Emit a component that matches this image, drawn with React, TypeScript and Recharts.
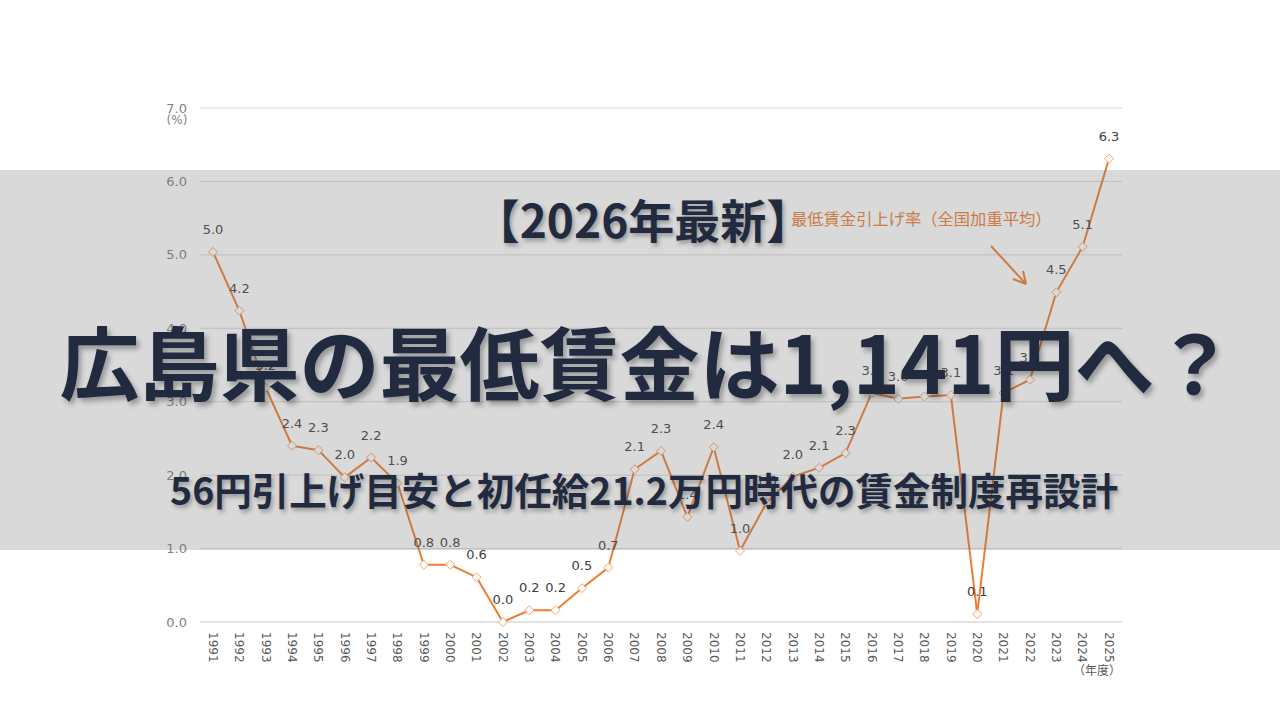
import { LineChart, Line, XAxis, YAxis, CartesianGrid, LabelList } from 'recharts'

// 最低賃金引上げ率（全国加重平均）, %
const years = [
  '1991', '1992', '1993', '1994', '1995', '1996', '1997', '1998', '1999', '2000',
  '2001', '2002', '2003', '2004', '2005', '2006', '2007', '2008', '2009', '2010',
  '2011', '2012', '2013', '2014', '2015', '2016', '2017', '2018', '2019', '2020',
  '2021', '2022', '2023', '2024', '2025',
]
const rates = [
  5.04, 4.24, 3.19, 2.4, 2.34, 1.97, 2.24, 1.89, 0.78, 0.78,
  0.61, 0.0, 0.16, 0.16, 0.46, 0.74, 2.08, 2.33, 1.43, 2.38,
  0.97, 1.62, 1.98, 2.1, 2.3, 3.12, 3.04, 3.07, 3.09, 0.11,
  3.12, 3.3, 4.49, 5.11, 6.31,
]
const yTicks = [0, 1, 2, 3, 4, 5, 6, 7]

const ORANGE = '#ed7d31'
const NAVY = '#222a40'
const CJK = '"Noto Sans CJK JP", "Noto Sans", sans-serif'

const data = years.map((year, i) => ({ year, rate: rates[i] }))

function YearTick({ x, y, payload }: any) {
  return (
    <text
      x={x}
      y={y}
      dy="0.35em"
      transform={`rotate(90, ${x}, ${y})`}
      textAnchor="start"
      fill="#595959"
      fontSize={12}
      fontFamily="DejaVu Sans"
    >
      {payload.value}
    </text>
  )
}

function Diamond({ cx, cy, index }: any) {
  if (cx == null || cy == null) return null
  const r = 4.5
  return (
    <path
      key={`d-${index}`}
      d={`M${cx},${cy - r} L${cx + r},${cy} L${cx},${cy + r} L${cx - r},${cy} Z`}
      fill="#ffffff"
      stroke="#f4a46a"
      strokeWidth={1}
    />
  )
}

function RateLabel({ x, y, value }: any) {
  return (
    <text
      x={x}
      y={y - 18}
      textAnchor="middle"
      fill="#404040"
      fontSize={13}
      fontFamily="DejaVu Sans"
    >
      {Number(value).toFixed(1)}
    </text>
  )
}

export default function App() {
  return (
    <div
      style={{
        position: 'absolute',
        left: 0,
        top: 0,
        width: 1280,
        height: 720,
        background: '#ffffff',
        overflow: 'hidden',
      }}
    >
      <LineChart
        width={1280}
        height={720}
        data={data}
        margin={{ top: 108, right: 158, bottom: 48, left: 150 }}
      >
        <CartesianGrid vertical={false} stroke="#d9d9d9" />
        <XAxis
          dataKey="year"
          interval={0}
          height={50}
          padding={{ left: 13, right: 13 }}
          tickLine={false}
          tickSize={0}
          tickMargin={10}
          axisLine={{ stroke: '#d9d9d9' }}
          tick={<YearTick />}
        />
        <YAxis
          width={50}
          domain={[0, 7]}
          ticks={yTicks}
          axisLine={false}
          tickLine={false}
          tickSize={0}
          tickMargin={13}
          tickFormatter={(v: number) => v.toFixed(1)}
          tick={{ fill: '#7f7f7f', fontSize: 13, fontFamily: 'DejaVu Sans' }}
        />
        <Line
          dataKey="rate"
          stroke={ORANGE}
          strokeWidth={2}
          dot={<Diamond />}
          activeDot={false}
          isAnimationActive={false}
        >
          <LabelList dataKey="rate" content={<RateLabel />} />
        </Line>
      </LineChart>

      {/* units */}
      <div style={{ position: 'absolute', left: 160, top: 114, width: 34, textAlign: 'center', fontFamily: 'DejaVu Sans', fontSize: 12, color: '#7f7f7f', lineHeight: 1 }}>
        (%)
      </div>
      <div style={{ position: 'absolute', left: 1068, top: 664, width: 58, textAlign: 'center', fontFamily: CJK, fontSize: 12, color: '#595959', lineHeight: 1 }}>
        （年度）
      </div>

      {/* series annotation */}
      <div style={{ position: 'absolute', left: 791, top: 210, fontFamily: CJK, fontSize: 16.3, color: ORANGE, lineHeight: 1, whiteSpace: 'nowrap' }}>
        最低賃金引上げ率（全国加重平均）
      </div>
      <svg style={{ position: 'absolute', left: 0, top: 0 }} width={1280} height={720}>
        <line x1={991} y1={246} x2={1026} y2={284} stroke={ORANGE} strokeWidth={2} />
        <path d="M1026,284 L1013,279 M1026,284 L1023,271" stroke={ORANGE} strokeWidth={2} fill="none" />
      </svg>

      {/* gray band */}
      <div style={{ position: 'absolute', left: 0, top: 170, width: 1280, height: 380, background: 'rgba(120,120,118,0.28)' }} />

      {/* titles */}
      <div style={{ position: 'absolute', left: 0, top: 195, width: 1286, textAlign: 'center', fontFamily: CJK, fontWeight: 700, fontSize: 46, color: NAVY, lineHeight: 1, textShadow: '2px 3px 4px rgba(0,0,0,0.3)' }}>
        【2026年最新】
      </div>
      <div style={{ position: 'absolute', left: 0, top: 319, width: 1294, textAlign: 'center', fontFamily: CJK, fontWeight: 700, fontSize: 80, color: NAVY, lineHeight: 1, textShadow: '3px 4px 5px rgba(0,0,0,0.3)' }}>
        広島県の最低賃金は1,141円へ？
      </div>
      <div style={{ position: 'absolute', left: 0, top: 470, width: 1288, textAlign: 'center', fontFamily: CJK, fontWeight: 700, fontSize: 37.5, color: NAVY, lineHeight: 1, textShadow: '2px 3px 4px rgba(0,0,0,0.3)' }}>
        56円引上げ目安と初任給21.2万円時代の賃金制度再設計
      </div>
    </div>
  )
}
